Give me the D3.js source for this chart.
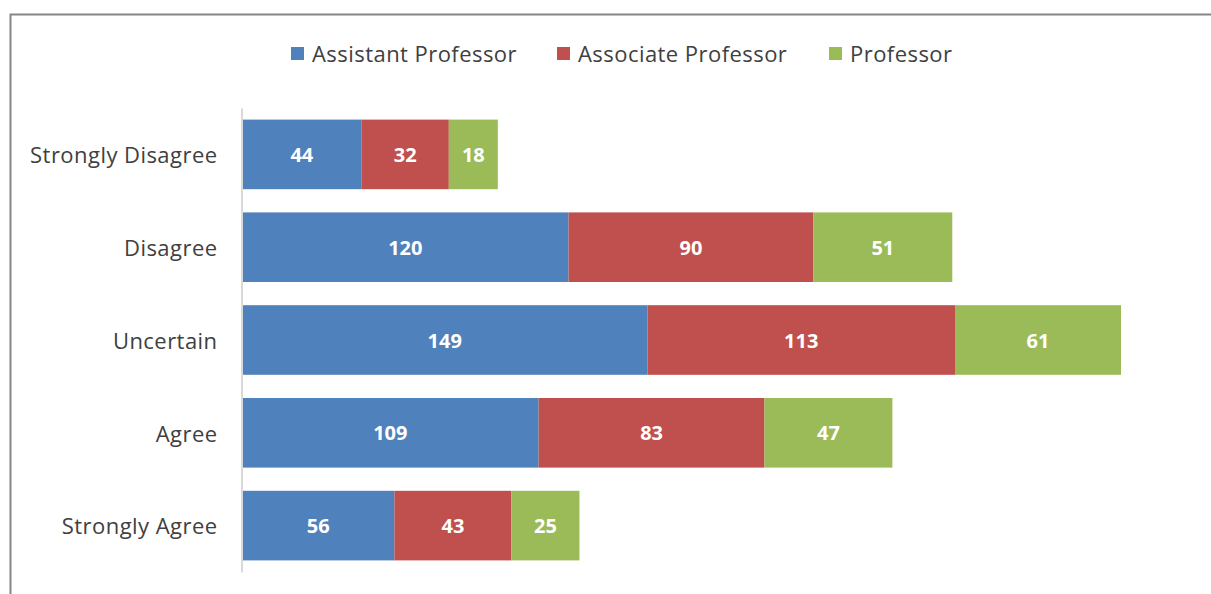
<!DOCTYPE html>
<meta charset="utf-8">
<style>
body { margin: 0; background: #fff; }
text { font-family: "Open Sans", "Noto Sans", sans-serif; }
.cat { fill: #404040; font-size: 22px; letter-spacing: 0.45px; }
.legend text { fill: #404040; font-size: 22px; letter-spacing: 0.45px; }
.val { fill: #fff; font-size: 20px; font-weight: bold; }
</style>
<svg width="1211" height="594"></svg>
<script src="https://cdn.jsdelivr.net/npm/d3@7/dist/d3.min.js"></script>
<script>

var categories = ["Strongly Disagree", "Disagree", "Uncertain", "Agree", "Strongly Agree"];
var series = ["Assistant Professor", "Associate Professor", "Professor"];
var assistant = [44, 120, 149, 109, 56];
var associate = [32, 90, 113, 83, 43];
var professor = [18, 51, 61, 47, 25];
var colors = ["#4f81bd", "#c0504d", "#9bbb59"];

var svg = d3.select("svg");

// chart frame
svg.append("rect")
    .attr("x", 10.5).attr("y", 14.5)
    .attr("width", 1220).attr("height", 600)
    .attr("fill", "none")
    .attr("stroke", "#868686")
    .attr("stroke-width", 2);

var data = categories.map(function(c, i) {
  return {cat: c, "Assistant Professor": assistant[i], "Associate Professor": associate[i], "Professor": professor[i]};
});

var stacked = d3.stack().keys(series)(data);

var x = d3.scaleLinear().domain([0, 323]).range([242, 1121]);
var y = d3.scaleBand().domain(categories).range([108, 572]).paddingInner(0.25).paddingOuter(0.125);

var layer = svg.selectAll(".layer")
  .data(stacked)
  .enter().append("g")
    .attr("class", "layer")
    .attr("fill", function(d, i) { return colors[i]; });

layer.selectAll("rect")
  .data(function(d) { return d; })
  .enter().append("rect")
    .attr("x", function(d) { return x(d[0]); })
    .attr("y", function(d) { return y(d.data.cat); })
    .attr("width", function(d) { return x(d[1]) - x(d[0]); })
    .attr("height", y.bandwidth());

layer.selectAll("text")
  .data(function(d) { return d; })
  .enter().append("text")
    .attr("class", "val")
    .attr("x", function(d) { return (x(d[0]) + x(d[1])) / 2; })
    .attr("y", function(d) { return y(d.data.cat) + y.bandwidth() / 2; })
    .attr("dy", "0.38em")
    .attr("text-anchor", "middle")
    .text(function(d) { return d[1] - d[0]; });

// category axis
var yAxis = svg.append("g")
    .attr("transform", "translate(241.5,0)")
    .call(d3.axisLeft(y).tickSize(0).tickPadding(24));
yAxis.attr("font-size", null).attr("font-family", null);
yAxis.select(".domain").attr("stroke", "#d9d9d9").attr("stroke-width", 2);
yAxis.selectAll("text")
    .attr("class", "cat")
    .attr("fill", null)
    .attr("dy", "0.4em");

// legend
var legendX = [291, 557, 829];
var legend = svg.append("g").attr("class", "legend")
  .selectAll("g")
  .data(series)
  .enter().append("g")
    .attr("transform", function(d, i) { return "translate(" + legendX[i] + ",47)"; });

legend.append("rect")
    .attr("width", 13).attr("height", 13)
    .attr("fill", function(d, i) { return colors[i]; });

legend.append("text")
    .attr("x", 21).attr("y", 7)
    .attr("dy", "0.36em")
    .text(function(d) { return d; });

</script>
